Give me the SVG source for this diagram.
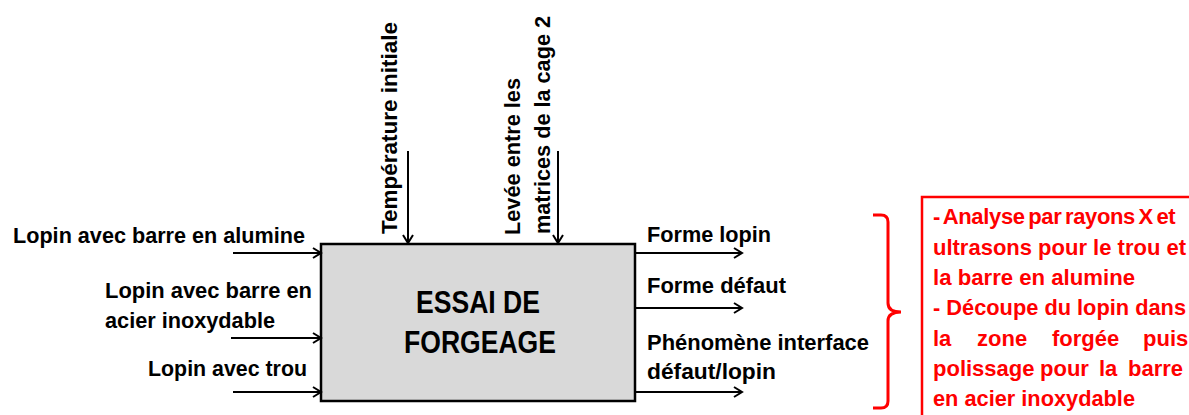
<svg xmlns="http://www.w3.org/2000/svg" width="1189" height="415" viewBox="0 0 1189 415">
<defs>
<style>
.lbl{font-family:"Liberation Sans",Arial,sans-serif;font-weight:bold;font-size:22px;fill:#000}
.big{font-family:"Liberation Sans",Arial,sans-serif;font-weight:bold;font-size:31px;fill:#000}
.red{font-family:"Liberation Sans",Arial,sans-serif;font-weight:bold;font-size:22px;fill:#ff0000}
.tight{letter-spacing:-0.35px;word-spacing:-2.2px}
.arr{stroke:#000;stroke-width:2;fill:none;marker-end:url(#ah)}
</style>
<marker id="ah" markerUnits="userSpaceOnUse" markerWidth="12" markerHeight="12" refX="9.5" refY="6" orient="auto">
<path d="M1.5,1 L9.5,6 L1.5,11" fill="none" stroke="#000" stroke-width="2"/>
</marker>
</defs>
<rect width="1189" height="415" fill="#fff"/>

<g id="node-essai">
<rect x="321" y="244" width="314" height="157" fill="#d9d9d9" stroke="#000" stroke-width="2.5"/>
<text class="big" x="478" y="313" text-anchor="middle" textLength="124" lengthAdjust="spacingAndGlyphs">ESSAI DE</text>
<text class="big" x="480" y="353" text-anchor="middle" textLength="152" lengthAdjust="spacingAndGlyphs">FORGEAGE</text>
</g>

<g id="input-alumine">
<text class="lbl" x="13" y="243" textLength="292" lengthAdjust="spacingAndGlyphs">Lopin avec barre en alumine</text>
</g>
<g id="input-acier">
<text class="lbl" x="105" y="298" textLength="207" lengthAdjust="spacingAndGlyphs">Lopin avec barre en</text>
<text class="lbl" x="105" y="328" textLength="170" lengthAdjust="spacingAndGlyphs">acier inoxydable</text>
</g>
<g id="input-trou">
<text class="lbl" x="148" y="376" textLength="159" lengthAdjust="spacingAndGlyphs">Lopin avec trou</text>
</g>

<g id="control-temperature">
<text class="lbl" transform="translate(397,234) rotate(-90)" textLength="212" lengthAdjust="spacingAndGlyphs">Température initiale</text>
</g>
<g id="control-levee">
<text class="lbl" transform="translate(520,235) rotate(-90)" textLength="157" lengthAdjust="spacingAndGlyphs">Levée entre les</text>
<text class="lbl" transform="translate(550,234) rotate(-90)" textLength="218" lengthAdjust="spacingAndGlyphs">matrices de la cage 2</text>
</g>

<g id="output-forme-lopin">
<text class="lbl" x="647" y="242" textLength="124" lengthAdjust="spacingAndGlyphs">Forme lopin</text>
</g>
<g id="output-forme-defaut">
<text class="lbl" x="647" y="293" textLength="139" lengthAdjust="spacingAndGlyphs">Forme défaut</text>
</g>
<g id="output-phenomene">
<text class="lbl" x="647" y="350" textLength="222" lengthAdjust="spacingAndGlyphs">Phénomène interface</text>
<text class="lbl" x="647" y="379" textLength="129" lengthAdjust="spacingAndGlyphs">défaut/lopin</text>
</g>

<g id="connectors">
<line class="arr" x1="233" y1="253" x2="321" y2="253"/>
<line class="arr" x1="231" y1="338" x2="321" y2="338"/>
<line class="arr" x1="233" y1="392" x2="321" y2="392"/>
<line class="arr" x1="408" y1="151" x2="408" y2="243"/>
<line class="arr" x1="558" y1="151" x2="558" y2="243"/>
<line class="arr" x1="636" y1="253" x2="742" y2="253"/>
<line class="arr" x1="636" y1="308" x2="742" y2="308"/>
<line class="arr" x1="636" y1="392" x2="742" y2="392"/>
</g>

<g id="brace">
<path d="M873,215 L881,215 Q888,215 888,222 L888,303 Q888,312 901,312 Q888,312 888,321 L888,401 Q888,408 881,408 L873,408" fill="none" stroke="#ff0000" stroke-width="3"/>
</g>

<g id="node-analyse">
<rect x="922" y="197" width="300" height="260" fill="none" stroke="#ff0000" stroke-width="2.5"/>
<text class="red tight" x="933" y="224">- Analyse par rayons X et</text>
<text class="red" x="933" y="254.5" textLength="253" lengthAdjust="spacingAndGlyphs">ultrasons pour le trou et</text>
<text class="red" x="933" y="285" textLength="202" lengthAdjust="spacingAndGlyphs">la barre en alumine</text>
<text class="red" x="933" y="315" textLength="253" lengthAdjust="spacingAndGlyphs">- Découpe du lopin dans</text>
<text class="red" y="345.5"><tspan x="933">la</tspan><tspan x="977">zone</tspan><tspan x="1052">forgée</tspan><tspan x="1143">puis</tspan></text>
<text class="red" y="376"><tspan x="933">polissage</tspan><tspan x="1040">pour</tspan><tspan x="1099">la</tspan><tspan x="1128">barre</tspan></text>
<text class="red" x="933" y="406" textLength="202" lengthAdjust="spacingAndGlyphs">en acier inoxydable</text>
</g>
</svg>
